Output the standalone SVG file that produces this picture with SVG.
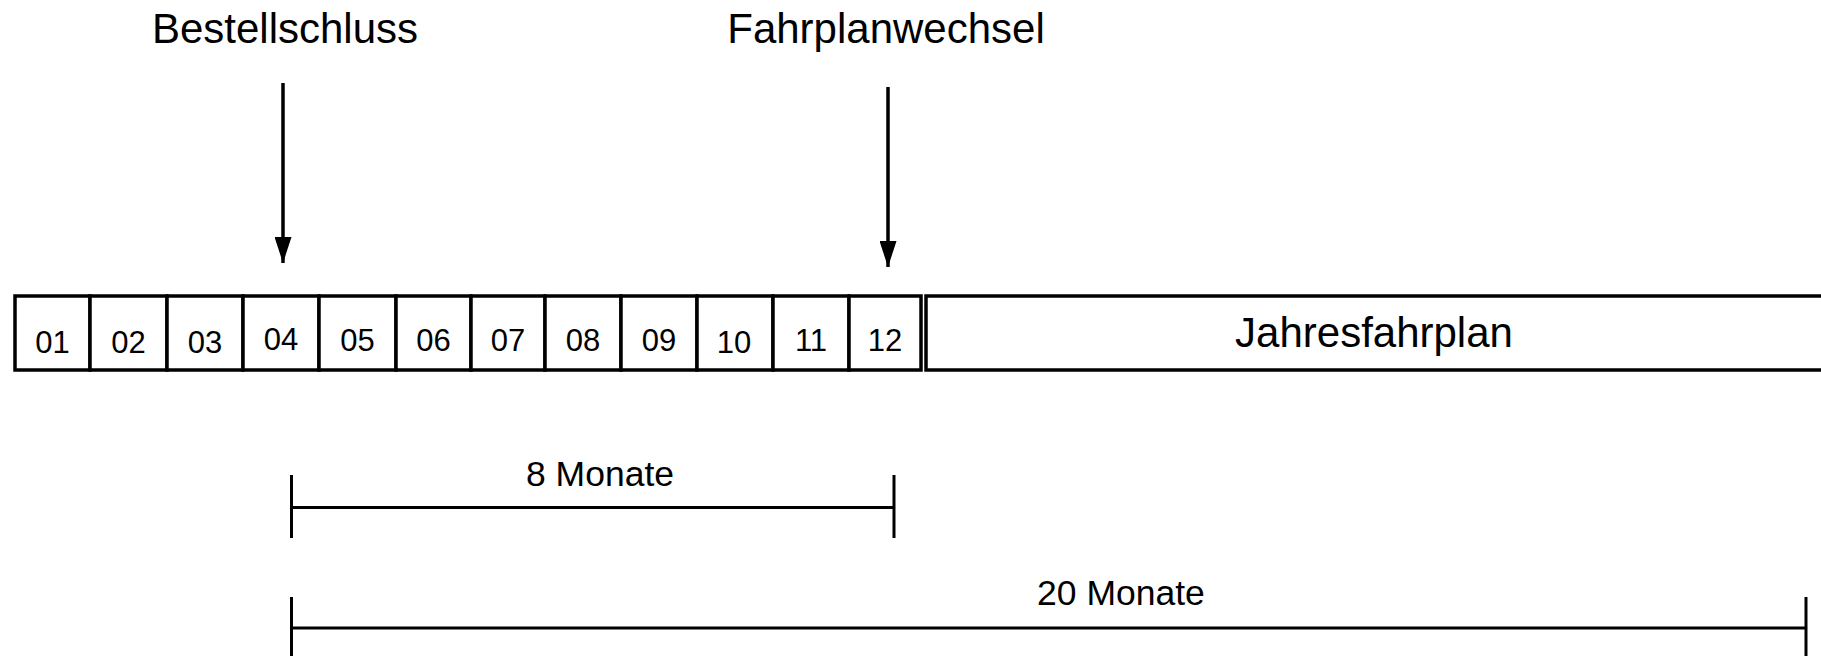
<svg xmlns="http://www.w3.org/2000/svg" width="1821" height="656" viewBox="0 0 1821 656">
<defs>
<marker id="ah" markerWidth="26" markerHeight="17" refX="26" refY="8.5" orient="auto" markerUnits="userSpaceOnUse" viewBox="0 0 26 17">
<path d="M0,0 L26,8.5 L0,17 Z" fill="#000"/>
</marker>
</defs>
<style>
.box{fill:#fff;stroke:#000;stroke-width:3.5}
.t{font-family:"Liberation Sans",Arial,sans-serif;fill:#000;text-anchor:middle}
.m{font-size:31px}
.lbl{font-size:42px}
.dim{font-size:35.5px}
.ln{stroke:#000;stroke-width:3;fill:none}
.arr{stroke:#000;stroke-width:3.5;fill:none}
</style>
<rect width="1821" height="656" fill="#fff"/>
<g id="month-01"><rect class="box" x="15" y="296" width="75" height="74"/><text class="t m" x="52.5" y="353">01</text></g>
<g id="month-02"><rect class="box" x="90" y="296" width="77" height="74"/><text class="t m" x="128.5" y="353">02</text></g>
<g id="month-03"><rect class="box" x="167" y="296" width="76" height="74"/><text class="t m" x="205" y="353">03</text></g>
<g id="month-04"><rect class="box" x="243" y="296" width="76" height="74"/><text class="t m" x="281" y="350">04</text></g>
<g id="month-05"><rect class="box" x="319" y="296" width="77" height="74"/><text class="t m" x="357.5" y="351">05</text></g>
<g id="month-06"><rect class="box" x="396" y="296" width="75" height="74"/><text class="t m" x="433.5" y="351">06</text></g>
<g id="month-07"><rect class="box" x="471" y="296" width="74" height="74"/><text class="t m" x="508" y="351">07</text></g>
<g id="month-08"><rect class="box" x="545" y="296" width="76" height="74"/><text class="t m" x="583" y="351">08</text></g>
<g id="month-09"><rect class="box" x="621" y="296" width="76" height="74"/><text class="t m" x="659" y="351">09</text></g>
<g id="month-10"><rect class="box" x="697" y="296" width="76" height="74"/><text class="t m" x="734" y="353">10</text></g>
<g id="month-11"><rect class="box" x="773" y="296" width="76" height="74"/><text class="t m" x="811" y="351">11</text></g>
<g id="month-12"><rect class="box" x="849" y="296" width="72" height="74"/><text class="t m" x="885" y="351">12</text></g>
<g id="jahresfahrplan"><rect class="box" x="926" y="296" width="910" height="74"/><text class="t lbl" x="1374" y="347">Jahresfahrplan</text></g>
<g id="bestellschluss"><text class="t lbl" x="285" y="43">Bestellschluss</text></g>
<g id="fahrplanwechsel"><text class="t lbl" x="886" y="43">Fahrplanwechsel</text></g>
<g id="span-8"><line class="ln" x1="291.5" y1="475" x2="291.5" y2="538"/><line class="ln" x1="894" y1="475" x2="894" y2="538"/><line class="ln" x1="291.5" y1="507.5" x2="894" y2="507.5"/><text class="t dim" x="600" y="486">8 Monate</text></g>
<g id="span-20"><line class="ln" x1="291.5" y1="597" x2="291.5" y2="656"/><line class="ln" x1="1806" y1="597" x2="1806" y2="656"/><line class="ln" x1="291.5" y1="628" x2="1806" y2="628"/><text class="t dim" x="1121" y="605">20 Monate</text></g>
<g id="connectors">
<line class="arr" x1="283" y1="83" x2="283" y2="263" marker-end="url(#ah)"/>
<line class="arr" x1="888" y1="87" x2="888" y2="267" marker-end="url(#ah)"/>
</g>
</svg>
